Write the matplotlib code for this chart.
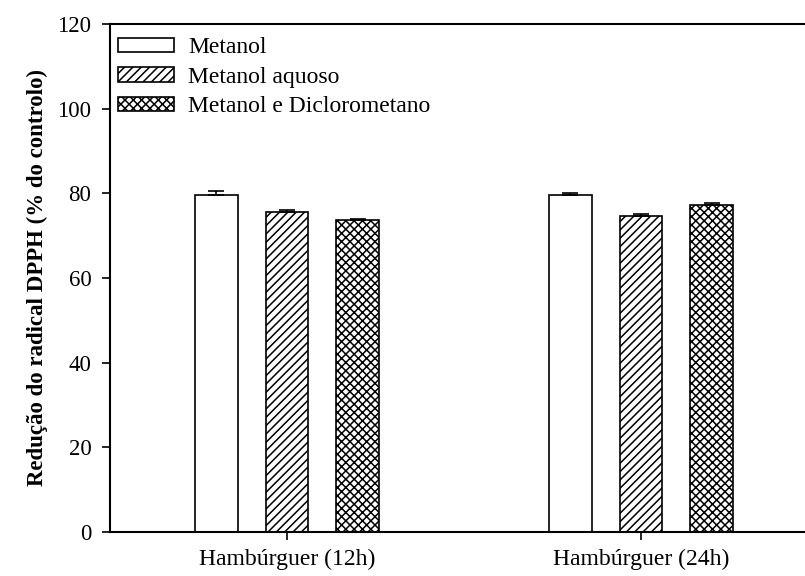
import matplotlib
matplotlib.use("Agg")
import matplotlib.pyplot as plt
import numpy as np

categories = ["Hambúrguer (12h)", "Hambúrguer (24h)"]
series = ["Metanol", "Metanol aquoso", "Metanol e Diclorometano"]
metanol = [79.6, 79.7]
metanol_err = [1.0, 0.3]
aquoso = [75.7, 74.6]
aquoso_err = [0.4, 0.6]
dicloro = [73.6, 77.2]
dicloro_err = [0.3, 0.4]
yticks = [0, 20, 40, 60, 80, 100, 120]

plt.rcParams['font.family'] = ['Liberation Serif', 'DejaVu Serif']
plt.rcParams['hatch.linewidth'] = 1.1

fig = plt.figure(figsize=(8.05, 5.76), dpi=100)
ax = fig.add_axes([110/805, 44/576, 708/805, 508/576])

x = np.arange(len(categories))
w = 0.121
off = 0.2
vals = [metanol, aquoso, dicloro]
errs = [metanol_err, aquoso_err, dicloro_err]
hatches = ['', '////', 'xxxx']
for i, (v, e, h, lab) in enumerate(zip(vals, errs, hatches, series)):
    pos = x + (i - 1) * off
    ax.bar(pos, v, width=w, color='white', edgecolor='black', linewidth=1.2,
           hatch=h, label=lab, zorder=2)
    ax.errorbar(pos, v, yerr=[np.zeros(len(e)), e], fmt='none', ecolor='black',
                elinewidth=1.2, capsize=5.5, capthick=1.2, zorder=3)

ax.set_xlim(-0.5, 1.5)
ax.set_ylim(0, 120)
ax.set_yticks(yticks)
ax.set_xticks(x)
ax.set_xticklabels(categories, fontsize=17)
ax.tick_params(axis='y', labelsize=16.5, length=6, width=1.2, direction='out', pad=7.5)
ax.tick_params(axis='x', length=6, width=1.2, direction='out', pad=6)
for s in ['left', 'bottom', 'top']:
    ax.spines[s].set_linewidth(1.5)
ax.spines['right'].set_visible(False)
ax.set_ylabel("Redução do radical DPPH (% do controlo)", fontsize=16.5,
              fontweight='bold', labelpad=7)

leg = ax.legend(loc='upper left', bbox_to_anchor=(0.0, 1 - 5/508), frameon=False,
                fontsize=17, handlelength=2.35, handleheight=0.55,
                labelspacing=0.36, handletextpad=0.6, borderpad=0.0,
                borderaxespad=0.35)

fig.savefig("out.png", dpi=100)
